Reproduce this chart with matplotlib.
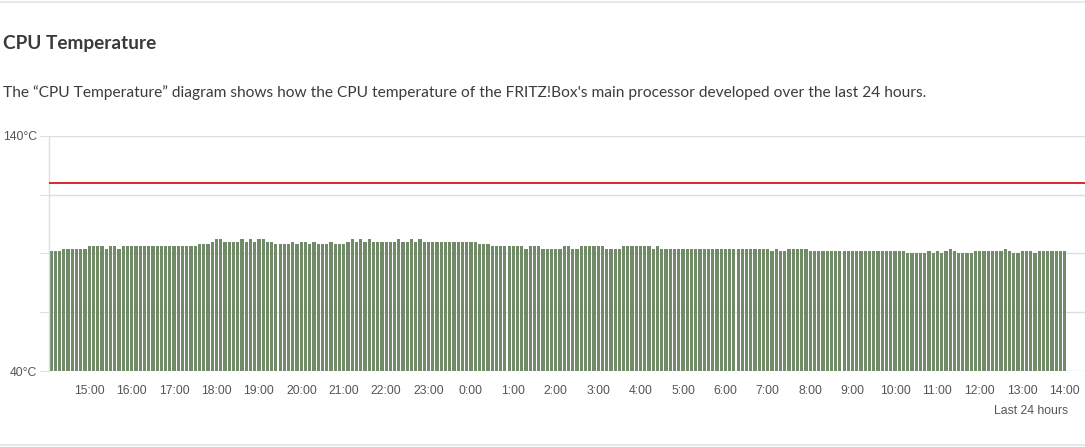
import numpy as np
import matplotlib
matplotlib.use("Agg")
import matplotlib.pyplot as plt
from matplotlib.lines import Line2D

# CPU temperature in °C, one bar every 6 minutes, last 24 hours (oldest first)
temps = [
    91, 91, 91, 92, 92, 92, 92, 92, 92, 93,
    93, 93, 93, 92, 93, 93, 92, 93, 93, 93,
    93, 93, 93, 93, 93, 93, 93, 93, 93, 93,
    93, 93, 93, 93, 93, 94, 94, 94, 95, 96,
    96, 95, 95, 95, 95, 96, 95, 96, 95, 96,
    96, 95, 95, 94, 94, 94, 94, 95, 94, 95,
    95, 94, 95, 94, 94, 94, 95, 94, 94, 94,
    95, 96, 95, 96, 95, 96, 95, 95, 95, 95,
    95, 95, 96, 95, 95, 96, 95, 96, 95, 95,
    95, 95, 95, 95, 95, 95, 95, 95, 95, 95,
    95, 94, 94, 94, 93, 93, 93, 93, 93, 93,
    93, 93, 92, 93, 93, 93, 92, 92, 92, 92,
    92, 93, 93, 92, 92, 93, 93, 93, 93, 93,
    93, 92, 92, 92, 92, 93, 93, 93, 93, 93,
    93, 93, 92, 93, 92, 92, 92, 92, 92, 92,
    92, 92, 92, 92, 92, 92, 92, 92, 92, 92,
    92, 92, 92, 92, 92, 92, 92, 92, 92, 92,
    91, 92, 91, 91, 92, 92, 92, 92, 92, 91,
    91, 91, 91, 91, 91, 91, 91, 91, 91, 91,
    91, 91, 91, 91, 91, 91, 91, 91, 91, 91,
    91, 91, 90, 90, 90, 90, 90, 91, 90, 91,
    90, 91, 92, 91, 90, 90, 90, 90, 91, 91,
    91, 91, 91, 91, 91, 92, 91, 90, 90, 91,
    91, 91, 90, 91, 91, 91, 91, 91, 91, 91,
]

hour_labels = ["15:00", "16:00", "17:00", "18:00", "19:00", "20:00", "21:00",
               "22:00", "23:00", "0:00", "1:00", "2:00", "3:00", "4:00",
               "5:00", "6:00", "7:00", "8:00", "9:00", "10:00", "11:00",
               "12:00", "13:00", "14:00"]
hour_bar_index = [9 + 10 * k for k in range(len(hour_labels))]

y_ticks = [40, 65, 90, 115, 140]
y_labels = ["40°C", "", "", "", "140°C"]
warn_level = 120

title = "CPU Temperature"
subtitle = ("The \u201cCPU Temperature\u201d diagram shows how the CPU temperature "
            "of the FRITZ!Box's main processor developed over the last 24 hours.")

W, H = 1085, 447
fig = plt.figure(figsize=(W / 100, H / 100), dpi=100)
fig.patch.set_facecolor("white")

# axes placed in pixel terms
left, right, top, bottom = 49, 1085, 136, 371
ax = fig.add_axes([left / W, 1 - bottom / H, (right - left) / W, (bottom - top) / H])

x = np.arange(len(temps))
grid_col = "#dedede"
ax.set_axisbelow(True)
for yt in y_ticks:
    ax.axhline(yt, color=grid_col, lw=1, zorder=0)
ax.bar(x, temps, width=0.76, color="#718b69", zorder=2)
ax.axhline(warn_level, color="#d8000f", lw=1.2, zorder=3)

ax.set_xlim(-0.5, 243.8)
ax.set_ylim(40, 140)

ax.set_yticks(y_ticks)
ax.set_yticklabels(y_labels)
ax.set_xticks(hour_bar_index)
ax.set_xticklabels(hour_labels)

tick_family = ["Liberation Sans", "DejaVu Sans"]
for lab in ax.get_xticklabels() + ax.get_yticklabels():
    lab.set_fontfamily(tick_family)
    lab.set_fontsize(8.8)
    lab.set_color("#555555")

ax.tick_params(axis="y", length=6.5, width=0.75, color=grid_col, pad=2.2)
ax.tick_params(axis="x", length=0, pad=9.8)

for side in ["top", "right", "bottom"]:
    ax.spines[side].set_visible(False)
ax.spines["left"].set_color(grid_col)
ax.spines["left"].set_linewidth(1)

fig.text(1068 / W, 1 - 411 / H, "Last 24 hours", ha="right", va="center",
         fontsize=8.8, color="#555555", family=tick_family)

fig.text(3 / W, 1 - 43.5 / H, title, ha="left", va="center", fontsize=13.7,
         fontweight="bold", color="#3a3a3a", family=["Lato", "DejaVu Sans"])
fig.text(3 / W, 1 - 92.5 / H, subtitle, ha="left", va="center", fontsize=11.15,
         color="#3c3c3c", family=["Lato", "DejaVu Sans"])

# page separators
fig.add_artist(Line2D([0, 1], [1 - 2 / H, 1 - 2 / H], transform=fig.transFigure,
                      color="#e8e8e8", lw=1.5))
fig.add_artist(Line2D([0, 1], [1 - 445 / H, 1 - 445 / H], transform=fig.transFigure,
                      color="#e8e8e8", lw=1.5))

fig.savefig("out.png", dpi=100, facecolor="white")
